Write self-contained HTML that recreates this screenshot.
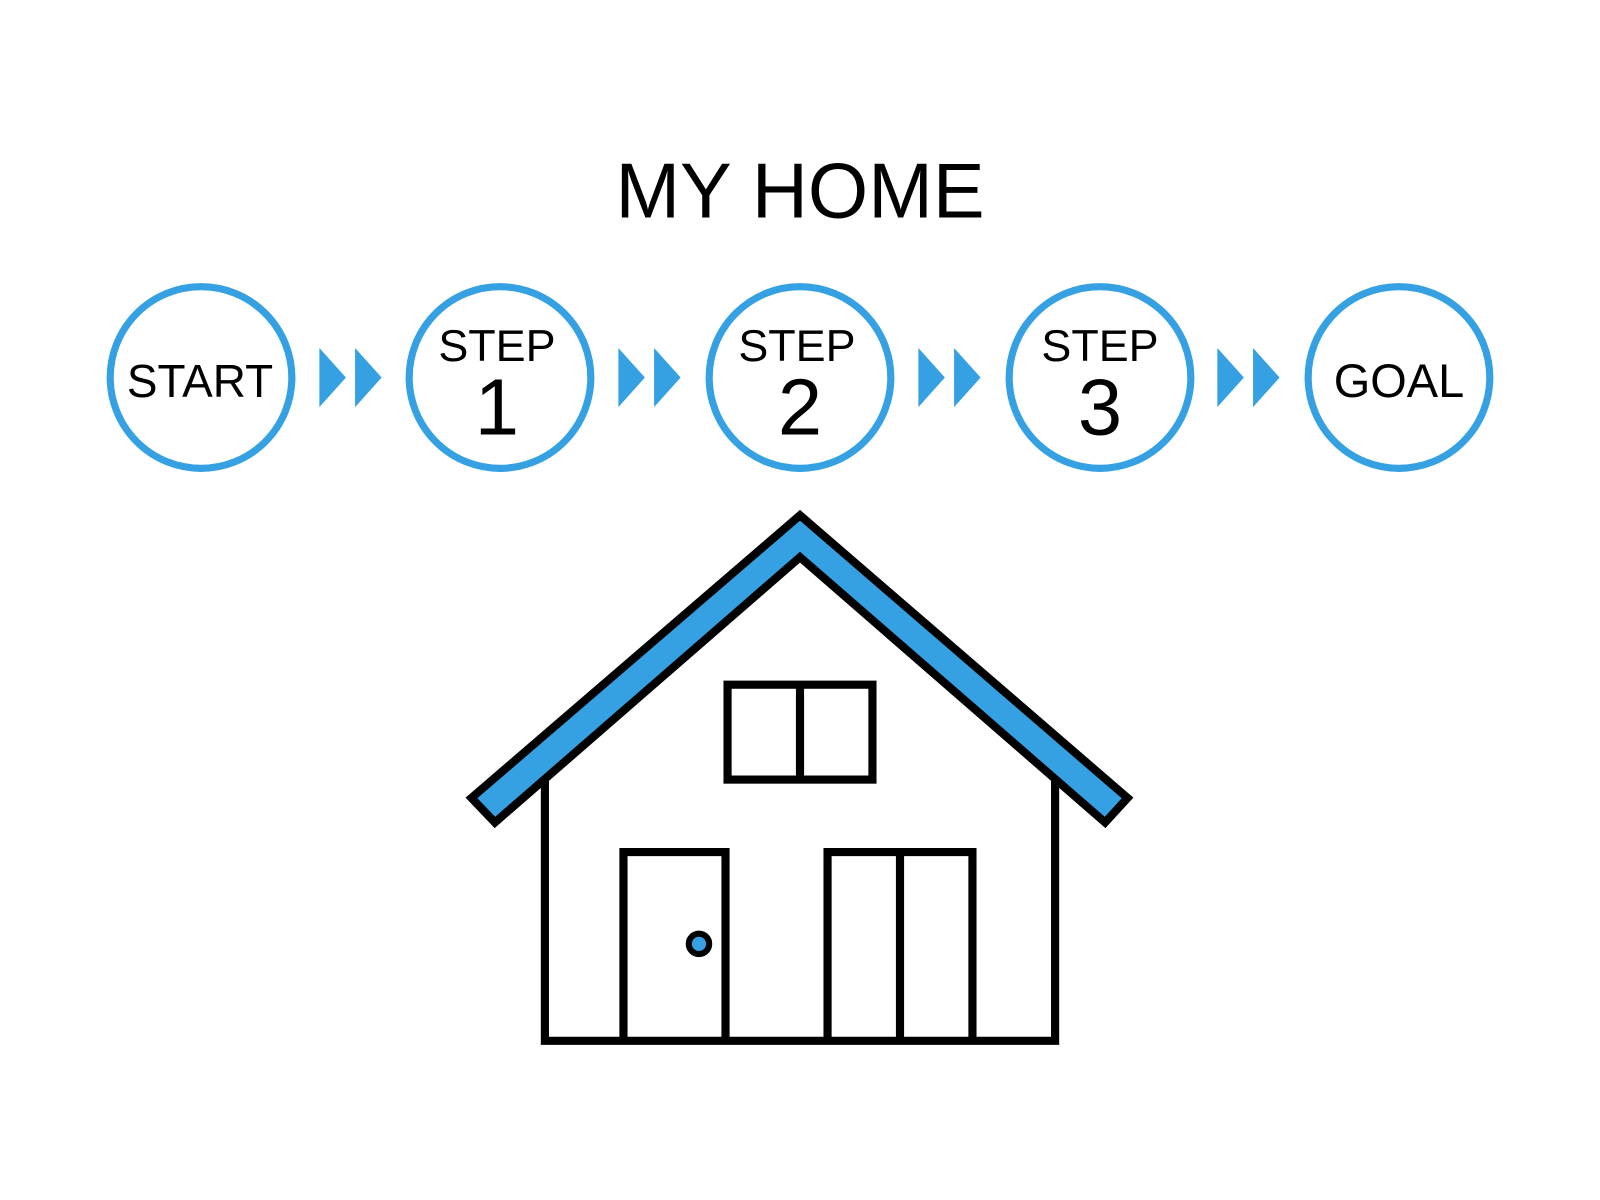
<!DOCTYPE html>
<html><head><style>html,body{margin:0;padding:0;background:#fff;}svg{display:block}</style></head>
<body>
<svg width="1600" height="1200" viewBox="0 0 1568 1176" xmlns="http://www.w3.org/2000/svg">
<rect width="1568" height="1176" fill="#fff"/>
<text x="784" y="213" font-family="Liberation Sans, sans-serif" font-size="76" text-anchor="middle" fill="#000">MY HOME</text>
<g fill="none" stroke="#35a0e2" stroke-width="7">
<circle cx="197" cy="370" r="89"/><circle cx="490" cy="370" r="89"/><circle cx="784" cy="370" r="89"/><circle cx="1078" cy="370" r="89"/><circle cx="1371" cy="370" r="89"/>
</g>
<g fill="#35a0e2">
<polygon points="313,341 339,370 313,399"/><polygon points="348,341 374,370 348,399"/>
<polygon points="606,341 632,370 606,399"/><polygon points="641,341 667,370 641,399"/>
<polygon points="900,341 926,370 900,399"/><polygon points="935,341 961,370 935,399"/>
<polygon points="1193,341 1219,370 1193,399"/><polygon points="1228,341 1254,370 1228,399"/>
</g>
<g font-family="Liberation Sans, sans-serif" fill="#000" text-anchor="middle">
<text x="196" y="389" font-size="45">START</text>
<text x="1371" y="389" font-size="46">GOAL</text>
<text x="487" y="354" font-size="44">STEP</text><text x="487" y="426" font-size="78">1</text>
<text x="781" y="354" font-size="44">STEP</text><text x="784" y="426" font-size="78">2</text>
<text x="1078" y="354" font-size="44">STEP</text><text x="1078" y="426" font-size="78">3</text>
</g>
<g fill="none" stroke="#000" stroke-width="8">
<polyline points="534,760 534,1020 1034,1020 1034,760"/>
<rect x="713" y="671" width="142" height="93"/><line x1="784" y1="671" x2="784" y2="764"/>
<polyline points="611,1020 611,835 711,835 711,1020"/>
<polyline points="811,1020 811,835 953,835 953,1020"/><line x1="882" y1="835" x2="882" y2="1020"/>
</g>
<polygon points="462,782 784,505 1105,782 1083,806 784,546 485,806" fill="#35a0e2" stroke="#000" stroke-width="8"/>
<circle cx="685" cy="925" r="10" fill="#35a0e2" stroke="#000" stroke-width="6"/>
</svg>
</body></html>
